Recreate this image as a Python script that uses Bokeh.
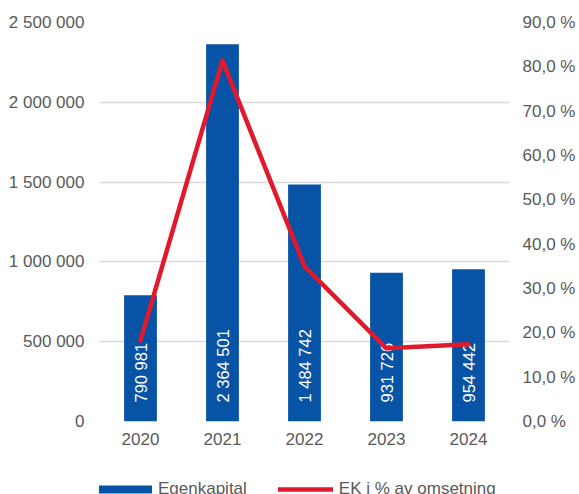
from bokeh.plotting import figure
from bokeh.models import (ColumnDataSource, Range1d, LinearAxis, FixedTicker,
                          Legend, LegendItem, FactorRange)
from bokeh.layouts import column
from bokeh.core.properties import value
from bokeh.embed import file_html
from bokeh.resources import INLINE
import math

years = ["2020", "2021", "2022", "2023", "2024"]
egenkapital = [790981, 2364501, 1484742, 931726, 954442]
bar_labels = ["790 981", "2 364 501", "1 484 742", "931 726", "954 442"]
ek_pct = [18.3, 81.4, 35.0, 16.5, 17.4]

left_ticks = [0, 500000, 1000000, 1500000, 2000000, 2500000]
left_tick_labels = ["0", "500 000", "1 000 000", "1 500 000", "2 000 000", "2 500 000"]
right_ticks = [0, 10, 20, 30, 40, 50, 60, 70, 80, 90]
right_tick_labels = ["0,0 %", "10,0 %", "20,0 %", "30,0 %", "40,0 %", "50,0 %",
                     "60,0 %", "70,0 %", "80,0 %", "90,0 %"]
legend_labels = ["Egenkapital", "EK i % av omsetning"]

BLUE = "#0753A5"
RED = "#E2192C"
GRAY = "#595959"
FONT = "Liberation Sans"
FS = "17px"

src = ColumnDataSource(dict(year=years, ek=egenkapital, lab=bar_labels,
                            pct=ek_pct, zero=[0] * len(years)))

p = figure(x_range=FactorRange(*years, range_padding=0),
           y_range=Range1d(0, 2500000),
           width=579, height=466, output_backend="svg", toolbar_location=None,
           min_border_left=99, min_border_right=70, min_border_top=22,
           min_border_bottom=45)
p.outline_line_color = None
p.extra_y_ranges = {"pct": Range1d(0, 90)}

bars = p.vbar(x="year", top="ek", width=0.4, source=src, fill_color=BLUE,
              line_color=None)
p.text(x="year", y="zero", text="lab", source=src, angle=math.pi / 2,
       text_align="left", text_baseline="middle", y_offset=-19,
       text_color="white", text_font=value(FONT), text_font_size="16.5px")
line = p.line(x="year", y="pct", source=src, y_range_name="pct",
              line_color=RED, line_width=4.5, line_join="round", line_cap="round")

# axes
p.yaxis.ticker = FixedTicker(ticks=left_ticks)
p.yaxis.major_label_overrides = {t: l for t, l in zip(left_ticks, left_tick_labels)}
ra = LinearAxis(y_range_name="pct", ticker=FixedTicker(ticks=right_ticks))
ra.major_label_overrides = {t: l for t, l in zip(right_ticks, right_tick_labels)}
p.add_layout(ra, "right")

for ax in [p.yaxis[0], ra, p.xaxis[0]]:
    ax.axis_line_color = None
    ax.major_tick_line_color = None
    ax.minor_tick_line_color = None
    ax.major_tick_out = 0
    ax.major_tick_in = 0
    ax.major_label_text_font = FONT
    ax.major_label_text_font_size = FS
    ax.major_label_text_color = GRAY
p.yaxis[0].major_label_standoff = 15
ra.major_label_standoff = 13
p.xaxis.major_label_standoff = 11

p.xgrid.grid_line_color = None
p.ygrid.grid_line_color = "#D9D9D9"
p.ygrid.grid_line_width = 1.5

# legend strip below the chart; proxy renderers share the data but lie outside its view
top_val = max(egenkapital) * 2
lf = figure(width=579, height=28, output_backend="svg", toolbar_location=None,
            x_range=FactorRange(*years, range_padding=0),
            y_range=Range1d(top_val, top_val * 1.5),
            x_axis_type=None, y_axis_type=None,
            min_border_left=99, min_border_right=70, min_border_top=0,
            min_border_bottom=0)
lf.outline_line_color = None
lf.grid.grid_line_color = None
lbar = lf.line(x="year", y="ek", source=src, line_color=BLUE, line_width=8,
               line_cap="butt")
lline = lf.line(x="year", y="pct", source=src, line_color=RED, line_width=4.5,
                line_cap="round")

legend = Legend(items=[LegendItem(label=legend_labels[0], renderers=[lbar]),
                       LegendItem(label=legend_labels[1], renderers=[lline])],
                orientation="horizontal", location=(-2, -5),
                padding=0, margin=0, spacing=31, label_standoff=6,
                glyph_width=55, glyph_height=10,
                label_text_font=FONT, label_text_font_size=FS,
                label_text_color=GRAY, background_fill_alpha=0,
                border_line_color=None)
lf.add_layout(legend, "center")

layout = column(p, lf, spacing=0)
open("out.html", "w").write(file_html(layout, INLINE))
